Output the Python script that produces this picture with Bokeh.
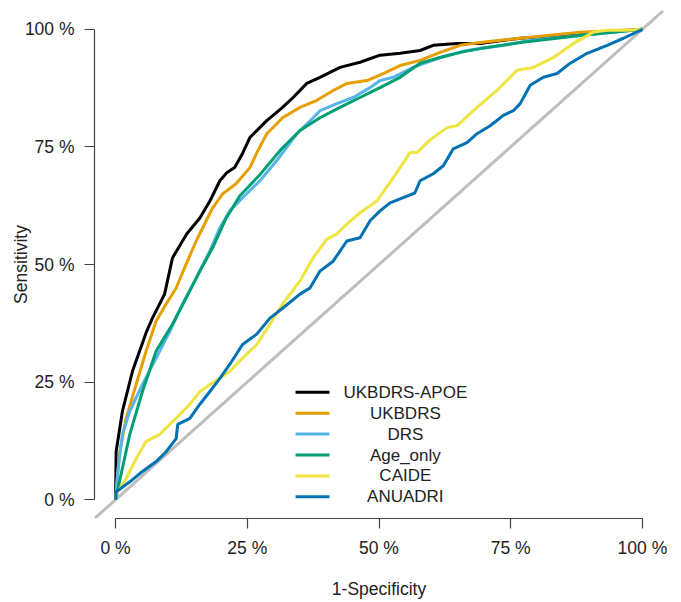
from bokeh.plotting import figure
from bokeh.models import FixedTicker, Slope, Range1d
from bokeh.core.properties import value
from bokeh.embed import file_html
from bokeh.resources import INLINE

# ---------------- data ----------------
series_names = ["UKBDRS-APOE", "UKBDRS", "DRS", "Age_only", "CAIDE", "ANUADRI"]
series_colors = ["#000000", "#E69F00", "#56B4E9", "#009E73", "#F0E442", "#0072B2"]

ukbdrs_apoe_fpr = [0, 0.001, 0.013, 0.032, 0.059, 0.070, 0.093, 0.108, 0.135, 0.160, 0.179, 0.198, 0.211, 0.226,
                   0.241, 0.255, 0.287, 0.317, 0.337, 0.363, 0.388, 0.426, 0.464, 0.502, 0.540, 0.578, 0.603,
                   0.648, 0.692, 0.768, 0.882, 1.0]
ukbdrs_apoe_tpr = [0, 0.102, 0.188, 0.273, 0.358, 0.386, 0.437, 0.514, 0.565, 0.599, 0.635, 0.678, 0.695, 0.706,
                   0.736, 0.770, 0.806, 0.834, 0.855, 0.885, 0.898, 0.919, 0.930, 0.945, 0.949, 0.955, 0.966,
                   0.970, 0.970, 0.981, 0.989, 1.0]

ukbdrs_fpr = [0, 0.008, 0.020, 0.039, 0.058, 0.077, 0.096, 0.115, 0.134, 0.153, 0.172, 0.184, 0.203, 0.229, 0.255,
              0.270, 0.287, 0.317, 0.350, 0.382, 0.413, 0.439, 0.477, 0.508, 0.540, 0.578, 0.616, 0.654, 0.692,
              0.768, 0.882, 1.0]
ukbdrs_tpr = [0, 0.102, 0.173, 0.245, 0.316, 0.380, 0.416, 0.450, 0.501, 0.550, 0.593, 0.620, 0.650, 0.672, 0.706,
              0.742, 0.778, 0.812, 0.834, 0.849, 0.870, 0.885, 0.891, 0.906, 0.923, 0.934, 0.951, 0.966, 0.972,
              0.981, 0.994, 1.0]

drs_fpr = [0, 0.004, 0.013, 0.027, 0.051, 0.077, 0.103, 0.127, 0.153, 0.179, 0.198, 0.217, 0.241, 0.274, 0.306,
           0.344, 0.375, 0.388, 0.420, 0.451, 0.483, 0.502, 0.527, 0.565, 0.616, 0.667, 0.692, 0.749, 0.787,
           0.920, 1.0]
drs_tpr = [0, 0.060, 0.139, 0.188, 0.245, 0.301, 0.358, 0.416, 0.471, 0.529, 0.578, 0.614, 0.642, 0.678, 0.721,
           0.778, 0.812, 0.827, 0.842, 0.855, 0.876, 0.891, 0.898, 0.919, 0.940, 0.955, 0.959, 0.968, 0.977,
           0.991, 1.0]

age_fpr = [0, 0.027, 0.051, 0.077, 0.108, 0.134, 0.160, 0.184, 0.210, 0.236, 0.274, 0.312, 0.350, 0.388, 0.426,
           0.464, 0.502, 0.540, 0.578, 0.616, 0.654, 0.692, 0.768, 0.882, 1.0]
age_tpr = [0, 0.139, 0.230, 0.316, 0.373, 0.429, 0.486, 0.535, 0.599, 0.646, 0.691, 0.742, 0.785, 0.812, 0.834,
           0.855, 0.876, 0.898, 0.928, 0.940, 0.951, 0.959, 0.972, 0.987, 1.0]

caide_fpr = [0, 0.001, 0.020, 0.039, 0.058, 0.084, 0.103, 0.122, 0.141, 0.160, 0.179, 0.198, 0.217, 0.241, 0.268,
             0.293, 0.317, 0.350, 0.375, 0.401, 0.420, 0.439, 0.464, 0.496, 0.527, 0.559, 0.572, 0.597, 0.629,
             0.648, 0.686, 0.724, 0.762, 0.793, 0.831, 0.869, 0.907, 0.933, 0.971, 1.0]
caide_tpr = [0, 0.011, 0.045, 0.087, 0.124, 0.139, 0.160, 0.181, 0.203, 0.230, 0.245, 0.258, 0.273, 0.301, 0.330,
             0.373, 0.416, 0.465, 0.514, 0.554, 0.565, 0.586, 0.610, 0.635, 0.684, 0.738, 0.738, 0.765, 0.791,
             0.795, 0.834, 0.870, 0.913, 0.919, 0.940, 0.970, 0.994, 0.998, 0.998, 1.0]

anuadri_fpr = [0, 0.001, 0.027, 0.051, 0.077, 0.096, 0.115, 0.118, 0.141, 0.160, 0.179, 0.198, 0.217, 0.241,
               0.268, 0.293, 0.317, 0.350, 0.369, 0.388, 0.413, 0.439, 0.464, 0.483, 0.502, 0.521, 0.546, 0.568,
               0.578, 0.603, 0.622, 0.641, 0.667, 0.686, 0.711, 0.736, 0.755, 0.768, 0.787, 0.812, 0.838, 0.863,
               0.895, 0.933, 0.964, 1.0]
anuadri_tpr = [0, 0.017, 0.038, 0.060, 0.081, 0.102, 0.130, 0.160, 0.173, 0.203, 0.230, 0.258, 0.288, 0.330,
               0.352, 0.386, 0.407, 0.437, 0.450, 0.486, 0.507, 0.550, 0.557, 0.593, 0.614, 0.631, 0.642, 0.652,
               0.678, 0.693, 0.710, 0.746, 0.759, 0.778, 0.795, 0.817, 0.827, 0.842, 0.881, 0.898, 0.906, 0.928,
               0.949, 0.966, 0.981, 1.0]

series_fpr = [ukbdrs_apoe_fpr, ukbdrs_fpr, drs_fpr, age_fpr, caide_fpr, anuadri_fpr]
series_tpr = [ukbdrs_apoe_tpr, ukbdrs_tpr, drs_tpr, age_tpr, caide_tpr, anuadri_tpr]

tick_values = [0, 0.25, 0.5, 0.75, 1.0]
tick_labels = ["0 %", "25 %", "50 %", "75 %", "100 %"]

# ---------------- layout / style ----------------
FONT = "Liberation Sans"
TXT = "#222222"

p = figure(width=681, height=602, output_backend="svg", toolbar_location=None,
           x_range=Range1d(-0.04, 1.04), y_range=Range1d(-0.04, 1.04),
           min_border_left=94, min_border_right=18, min_border_top=10, min_border_bottom=84)
p.outline_line_color = None
p.xgrid.visible = False
p.ygrid.visible = False
p.background_fill_color = "white"
p.border_fill_color = "white"

p.add_layout(Slope(gradient=1, y_intercept=0, line_color="#BEBEBE", line_width=3, level="underlay"))

for fpr, tpr, col in zip(series_fpr, series_tpr, series_colors):
    p.line(fpr, tpr, line_color=col, line_width=3)

# legend (no box, text centred as in the reference)
leg_x0, leg_x1, leg_text_x = 0.3416, 0.406, 0.550
leg_y_top, leg_dy = 0.2285, 0.0445
leg_y = [leg_y_top - i * leg_dy for i in range(len(series_names))]
p.segment(x0=[leg_x0] * 6, x1=[leg_x1] * 6, y0=leg_y, y1=leg_y, line_color=series_colors, line_width=3)
p.text(x=[leg_text_x] * 6, y=leg_y, text=series_names, text_align="center", text_baseline="middle",
       text_font=value(FONT), text_font_size="17px", text_color=TXT)

overrides = {v: l for v, l in zip(tick_values, tick_labels)}
for ax in (p.xaxis[0], p.yaxis[0]):
    ax.ticker = FixedTicker(ticks=tick_values)
    ax.major_label_overrides = overrides
    ax.bounds = (0, 1)
    ax.minor_tick_line_color = None
    ax.major_tick_in = 0
    ax.major_tick_out = 10
    ax.axis_line_color = "#444444"
    ax.major_tick_line_color = "#444444"
    ax.axis_line_width = 1.2
    ax.major_tick_line_width = 1.2
    ax.major_label_text_font = FONT
    ax.major_label_text_font_size = "17.5px"
    ax.major_label_text_color = TXT
    ax.axis_label_text_font = FONT
    ax.axis_label_text_font_size = "17.5px"
    ax.axis_label_text_font_style = "normal"
    ax.axis_label_text_color = TXT

p.xaxis.axis_label = "1-Specificity"
p.xaxis.major_label_standoff = 9
p.xaxis.axis_label_standoff = 18
p.yaxis.axis_label = "Sensitivity"
p.yaxis.major_label_standoff = 10
p.yaxis.major_label_orientation = "horizontal"
p.yaxis.axis_label_standoff = -9

open("out.html", "w").write(file_html(p, INLINE))
